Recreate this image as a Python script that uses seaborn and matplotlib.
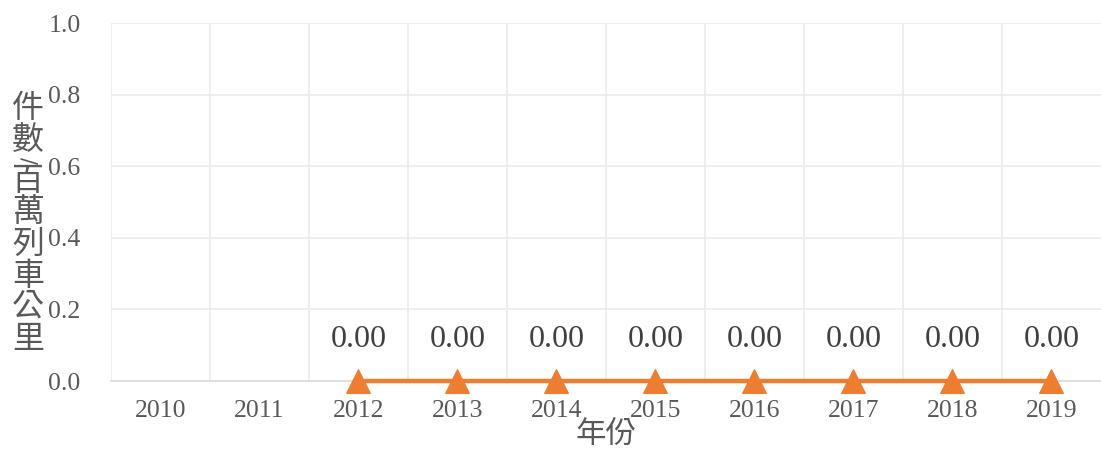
import numpy as np
import pandas as pd
import matplotlib
matplotlib.use("Agg")
import matplotlib.pyplot as plt
import seaborn as sns

# Data
years = [2010, 2011, 2012, 2013, 2014, 2015, 2016, 2017, 2018, 2019]
rate = [np.nan, np.nan, 0.00, 0.00, 0.00, 0.00, 0.00, 0.00, 0.00, 0.00]
y_ticks = [0.0, 0.2, 0.4, 0.6, 0.8, 1.0]
x_title = "年份"
y_title = "件數/百萬列車公里"

df = pd.DataFrame({"year": years, "rate": rate})

sns.set_theme(style="white")
plt.rcParams["font.family"] = ["Liberation Serif", "Noto Sans CJK TC", "DejaVu Sans"]

orange = "#ED7D31"
tick_color = "#595959"
W, H = 1101, 455

fig = plt.figure(figsize=(W / 100, H / 100), dpi=100)
ax = fig.add_axes([111 / W, 1 - 381 / H, 990 / W, 358 / H])

sns.lineplot(data=df.dropna(), x="year", y="rate", ax=ax, color=orange,
             linewidth=3.2, marker="^", markersize=17, markeredgecolor=orange,
             clip_on=False, zorder=5)

for x, v in zip(df["year"], df["rate"]):
    if np.isnan(v):
        continue
    ax.annotate(f"{v:.2f}", (x, v), xytext=(0, 30), textcoords="offset points",
                ha="center", va="center", fontsize=23, color="#404040",
                family="Liberation Serif")

ax.set_xlim(years[0] - 0.5, years[-1] + 0.5)
ax.set_ylim(y_ticks[0], y_ticks[-1])
ax.set_xticks(years)
ax.set_xticklabels([str(y) for y in years])
ax.set_xticks([y + 0.5 for y in years[:-1]] + [years[0] - 0.5], minor=True)
ax.set_yticks(y_ticks)
ax.set_yticklabels([f"{t:.1f}" for t in y_ticks])

ax.grid(False)
ax.grid(axis="y", which="major", color="#ebebeb", linewidth=1.2)
ax.grid(axis="x", which="minor", color="#ebebeb", linewidth=1.2)
ax.tick_params(axis="x", which="both", length=0, pad=14, labelsize=18.5, labelcolor=tick_color)
ax.tick_params(axis="y", which="both", length=0, pad=22, labelsize=18.5, labelcolor=tick_color)
for lab in ax.get_xticklabels() + ax.get_yticklabels():
    lab.set_family("Liberation Serif")

for s in ["top", "right", "left"]:
    ax.spines[s].set_visible(False)
ax.spines["bottom"].set_color("#d9d9d9")
ax.spines["bottom"].set_linewidth(1.2)

ax.set_xlabel(x_title, fontsize=22, color=tick_color, family="Noto Sans CJK TC", labelpad=-2)
ax.set_ylabel("")

# vertical (stacked) y title, the slash turned as in vertical writing
y_px = 108
for ch in y_title:
    if ch == "/":
        fig.text(28 / W, 1 - (y_px - 11) / H, ch, ha="center", va="center", rotation=-90,
                 fontsize=15, color=tick_color, family="DejaVu Sans")
        y_px += 10
        continue
    fig.text(28 / W, 1 - y_px / H, ch, ha="center", va="center",
             fontsize=23, color=tick_color, family="Noto Sans CJK TC")
    y_px += 31.5
fig.savefig("out.png", dpi=100)
